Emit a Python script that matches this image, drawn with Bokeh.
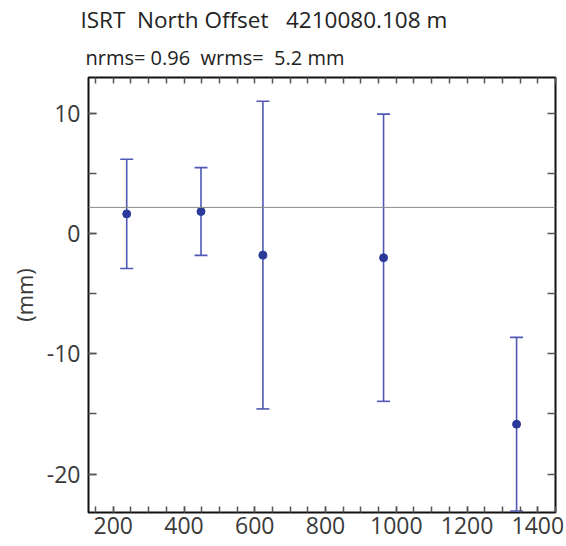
from bokeh.plotting import figure
from bokeh.models import LinearAxis, Title, Span, FixedTicker, Range1d, ColumnDataSource
from bokeh.embed import file_html
from bokeh.resources import INLINE

# ---- data ----
epochs = [238, 448, 623, 964, 1340]
offsets = [1.65, 1.85, -1.78, -2.0, -15.85]
sigmas = [4.55, 3.65, 12.8, 11.95, 7.22]
mean_offset = 2.19
x_ticks = [200, 400, 600, 800, 1000, 1200, 1400]
x_minor = [150 + 50 * i for i in range(27)]
y_ticks = [-20, -10, 0, 10]
y_minor = [-20, -15, -10, -5, 0, 5, 10]
# non-breaking spaces keep the wide gaps of the original
title_text = "ISRT\u00a0 North Offset\u00a0\u00a0 4210080.108 m"
subtitle_text = "nrms= 0.96\u00a0 wrms=\u00a0 5.2 mm"

FONT = "Open Sans"
LINE_BLUE = "#4f58b4"
DOT_BLUE = "#2b3a98"

src = ColumnDataSource(dict(
    x=epochs, y=offsets,
    lo=[o - s for o, s in zip(offsets, sigmas)],
    hi=[o + s for o, s in zip(offsets, sigmas)],
))

p = figure(width=566, height=546, output_backend="svg", toolbar_location=None,
           x_range=Range1d(130, 1450), y_range=Range1d(-23.2, 13),
           min_border_left=88, min_border_right=11, min_border_top=77,
           min_border_bottom=34)
p.background_fill_color = "white"
p.border_fill_color = "white"
p.outline_line_color = "#111111"
p.outline_line_width = 2
p.xgrid.visible = False
p.ygrid.visible = False

xt = FixedTicker(ticks=x_ticks, minor_ticks=x_minor)
yt = FixedTicker(ticks=y_ticks, minor_ticks=y_minor)
xt_bare = FixedTicker(ticks=[], minor_ticks=x_minor)
yt_bare = FixedTicker(ticks=[], minor_ticks=y_minor)

def style_axis(ax, ticker, tick_len):
    ax.ticker = ticker
    ax.axis_line_color = None
    ax.major_tick_in = tick_len
    ax.major_tick_out = 0
    ax.minor_tick_in = tick_len
    ax.minor_tick_out = 0
    ax.major_tick_line_color = "#555555"
    ax.minor_tick_line_color = "#555555"
    ax.major_tick_line_width = 1.5
    ax.minor_tick_line_width = 1.5
    ax.major_label_text_font = FONT
    ax.major_label_text_font_size = "23px"
    ax.major_label_text_color = "#3a3a3a"

style_axis(p.xaxis[0], xt, 6)
p.xaxis[0].major_label_standoff = 4
style_axis(p.yaxis[0], yt, 8)
p.yaxis[0].major_label_standoff = 8
p.yaxis[0].major_label_overrides = {t: str(t) for t in y_ticks}
p.yaxis[0].axis_label = "(mm)"
p.yaxis[0].axis_label_text_font = FONT
p.yaxis[0].axis_label_text_font_size = "22px"
p.yaxis[0].axis_label_text_font_style = "normal"
p.yaxis[0].axis_label_text_color = "#3a3a3a"
p.yaxis[0].axis_label_standoff = 5

top_ax = LinearAxis()
style_axis(top_ax, xt_bare, 6)
top_ax.major_label_standoff = 0
p.add_layout(top_ax, "above")
right_ax = LinearAxis()
style_axis(right_ax, yt_bare, 8)
right_ax.major_label_standoff = 0
p.add_layout(right_ax, "right")

# subtitle first (closest to the frame), then the main title above it
p.add_layout(Title(text=subtitle_text, align="left", offset=-3,
                   text_font=FONT, text_font_size="20px",
                   text_font_style="normal", text_color="#222222",
                   standoff=13), "above")
p.add_layout(Title(text=title_text, align="left", offset=-8,
                   text_font=FONT, text_font_size="22.5px",
                   text_font_style="normal", text_color="#222222",
                   standoff=1), "above")

p.add_layout(Span(location=mean_offset, dimension="width",
                  line_color="#8a8a8a", line_width=1))

p.segment(x0="x", y0="lo", x1="x", y1="hi", source=src,
          line_color=LINE_BLUE, line_width=1.6)
p.dash(x="x", y="lo", source=src, size=13, line_color=LINE_BLUE, line_width=1.6)
p.dash(x="x", y="hi", source=src, size=13, line_color=LINE_BLUE, line_width=1.6)
p.scatter(x="x", y="y", source=src, size=8, fill_color=DOT_BLUE,
          line_color=DOT_BLUE)

open("out.html", "w").write(file_html(p, INLINE))
